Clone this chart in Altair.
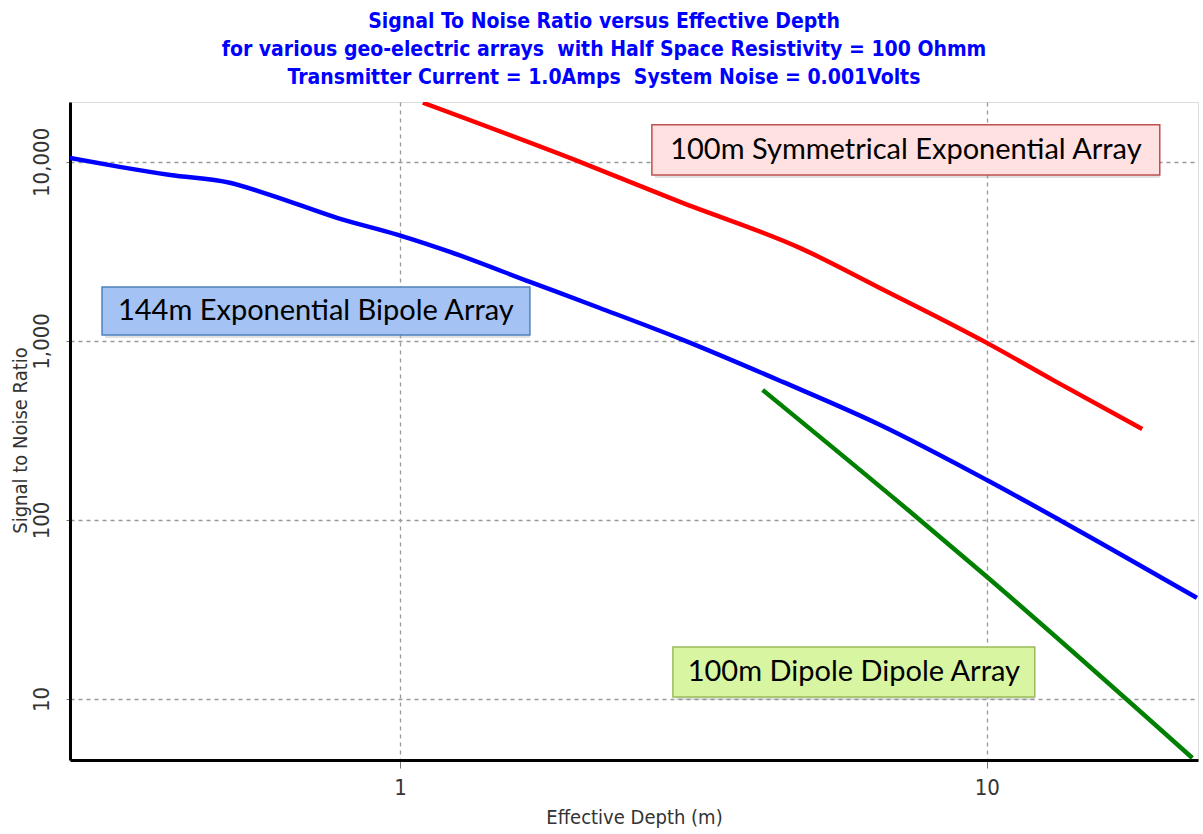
import altair as alt
import pandas as pd

# ---- data (log-log) ----
blue_x = [0.274, 0.333, 0.406, 0.513, 0.600, 0.781, 0.992, 1.217, 1.665, 2.19, 3.034, 4.49, 6.57, 10.0, 13.3, 22.8]
blue_y = [10520, 9380, 8450, 7640, 6550, 4870, 3910, 3140, 2136, 1527, 1014, 590, 340, 167, 100, 36.7]
red_x = [1.094, 2.026, 3.0, 4.80, 6.57, 10.0, 12.95, 18.4]
red_y = [21400, 10000, 5980, 3310, 1977, 975, 606, 322]
green_x = [4.15, 7.69, 10.0, 22.4]
green_y = [532, 100, 48.1, 4.68]

series_names = ["144m Exponential Bipole Array", "100m Symmetrical Exponential Array", "100m Dipole Dipole Array"]
series_colors = ["#0000FF", "#FF0000", "#008000"]

x_ticks = [1, 10]
y_ticks = [10, 100, 1000, 10000]

title_lines = [
    "Signal To Noise Ratio versus Effective Depth",
    "for various geo-electric arrays\u00a0 with Half Space Resistivity = 100 Ohmm",
    "Transmitter Current = 1.0Amps\u00a0 System Noise = 0.001Volts",
]

# annotation boxes (in data units)
ann_text = series_names
ann_x1 = [0.3107, 2.687, 2.918]
ann_x2 = [1.665, 19.71, 12.07]
ann_y1 = [1080, 8460, 10.26]
ann_y2 = [2003, 16100, 19.52]
ann_tx = [0.719, 7.28, 5.935]
ann_ty = [1471, 11670, 14.15]
ann_fill = ["#A4C2F4", "#FFE1E1", "#D8F5A2"]
ann_stroke = ["#4F81BD", "#C0504D", "#9BBB59"]

rows = []
for name, xs, ys in zip(series_names, [blue_x, red_x, green_x], [blue_y, red_y, green_y]):
    for i, (a, b) in enumerate(zip(xs, ys)):
        rows.append({"series": name, "x": a, "y": b, "order": i})
df = pd.DataFrame(rows)

boxes_df = pd.DataFrame({"x": ann_x1, "x2": ann_x2, "y": ann_y1, "y2": ann_y2,
                         "fill": ann_fill, "stroke": ann_stroke})
text_df = pd.DataFrame({"x": ann_tx, "y": ann_ty, "text": ann_text})

narrow = "Liberation Sans Narrow, DejaVu Sans Condensed, Arial Narrow, sans-serif"

xscale = alt.Scale(type="log", domain=[0.274, 22.9], nice=False)
yscale = alt.Scale(type="log", domain=[4.56, 21600], nice=False)

xaxis = alt.Axis(
    values=x_ticks, title="Effective Depth (m)", format="~g",
    grid=True, gridDash=[4, 4], gridColor="#999999", gridWidth=1.3,
    domainColor="#000000", domainWidth=3, tickColor="#777777", tickSize=8,
    labelFont=narrow, labelFontSize=22, labelColor="#333333", labelPadding=9,
    titleFont=narrow, titleFontSize=20, titleColor="#333333", titleFontWeight="normal",
    titlePadding=9)
yaxis = alt.Axis(
    values=y_ticks, title="Signal to Noise Ratio", format=",",
    grid=True, gridDash=[4, 4], gridColor="#999999", gridWidth=1.3,
    domainColor="#000000", domainWidth=3, tickColor="#777777", tickSize=4,
    labelFont=narrow, labelFontSize=22, labelColor="#333333",
    labelAngle=270, labelAlign="center", labelBaseline="bottom", labelPadding=13,
    titleFont=narrow, titleFontSize=20, titleColor="#333333", titleFontWeight="normal",
    titleAngle=270, titleAlign="center", titleBaseline="middle", titleX=-50, titleY=338)

X = lambda: alt.X("x:Q", scale=xscale, axis=xaxis)
Y = lambda: alt.Y("y:Q", scale=yscale, axis=yaxis)

lines = alt.Chart(df).mark_line(strokeWidth=4.5, clip=True, interpolate="monotone").encode(
    x=X(), y=Y(),
    color=alt.Color("series:N", scale=alt.Scale(domain=series_names, range=series_colors), legend=None),
    order="order:Q",
)

shadow = alt.Chart(boxes_df).mark_rect(opacity=0.25, color="#888888", xOffset=3, yOffset=3).encode(
    x=X(), x2="x2:Q", y=Y(), y2="y2:Q",
)

boxes = alt.Chart(boxes_df).mark_rect(strokeWidth=1.5).encode(
    x=X(), x2="x2:Q", y=Y(), y2="y2:Q",
    fill=alt.Fill("fill:N", scale=None),
    stroke=alt.Stroke("stroke:N", scale=None),
)

texts = alt.Chart(text_df).mark_text(font="Lato, Open Sans, sans-serif", fontSize=29, color="#000000",
                                     align="center", baseline="middle").encode(
    x=X(), y=Y(), text="text:N",
)

chart = alt.layer(lines, shadow, boxes, texts).properties(
    width=1128, height=658,
    autosize=alt.AutoSizeParams(type="none"),
    padding={"left": 70, "top": 102, "right": 5, "bottom": 74},
    title=alt.TitleParams(text=title_lines, anchor="middle", frame="bounds",
                          font=narrow, fontSize=21, fontWeight="bold", color="#0000FF",
                          lineHeight=28, offset=14),
).configure_view(stroke="#222222", strokeWidth=1.5).configure(background="white")

chart.save("out.html", embed_options={"renderer": "svg", "actions": False})
